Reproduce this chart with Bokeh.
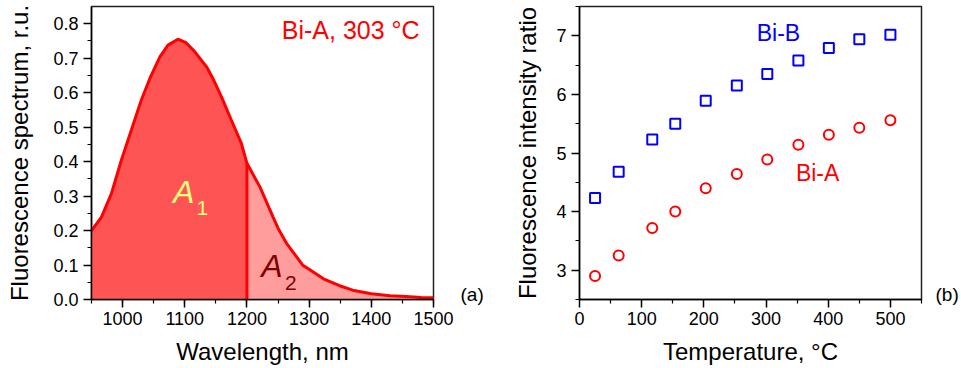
from bokeh.plotting import figure
from bokeh.models import Range1d, FixedTicker, Label, NumeralTickFormatter, LinearAxis
from bokeh.layouts import row
from bokeh.embed import file_html
from bokeh.resources import INLINE

# ---- data: panel (a) spectrum ----
wavelength = [950, 966, 982, 998, 1014, 1030, 1044, 1060, 1073, 1089, 1102, 1116,
              1135, 1145, 1159, 1175, 1191, 1200, 1221, 1242, 1250, 1264, 1290, 1300,
              1323, 1349, 1370, 1400, 1430, 1456, 1480, 1500]
intensity = [0.200, 0.239, 0.307, 0.404, 0.491, 0.578, 0.642, 0.704, 0.738, 0.755,
             0.745, 0.719, 0.675, 0.642, 0.588, 0.520, 0.453, 0.395, 0.326, 0.239,
             0.207, 0.162, 0.099, 0.088, 0.060, 0.040, 0.027, 0.0165, 0.011, 0.0087,
             0.006, 0.005]
split_wl = 1200

# ---- data: panel (b) ratio vs temperature ----
temp_b = [25, 63, 117, 154, 203, 253, 302, 352, 401, 450, 500]
ratio_b = [4.23, 4.68, 5.23, 5.50, 5.89, 6.15, 6.35, 6.58, 6.79, 6.94, 7.02]
temp_a = [25, 63, 117, 154, 203, 253, 302, 352, 401, 450, 500]
ratio_a = [2.90, 3.25, 3.72, 4.00, 4.40, 4.64, 4.89, 5.14, 5.31, 5.43, 5.56]

x1_ticks = [1000, 1100, 1200, 1300, 1400, 1500]
y1_ticks = [0.0, 0.1, 0.2, 0.3, 0.4, 0.5, 0.6, 0.7, 0.8]
x2_ticks = [0, 100, 200, 300, 400, 500]
y2_ticks = [3, 4, 5, 6, 7]

FONT = "Liberation Sans"


def style(p, xt, yt, xminor, yminor):
    p.xgrid.visible = False
    p.ygrid.visible = False
    p.outline_line_color = "#222222"
    p.outline_line_width = 1.5
    p.outline_line_alpha = 1.0
    for ax in (p.xaxis[0], p.yaxis[0]):
        ax.axis_line_color = "black"
        ax.axis_line_width = 1.5
        ax.major_tick_line_color = "black"
        ax.major_tick_line_width = 1.5
        ax.minor_tick_line_color = "black"
        ax.minor_tick_line_width = 1.2
        ax.major_tick_in = 0
        ax.major_tick_out = 8
        ax.minor_tick_in = 0
        ax.minor_tick_out = 4
        ax.major_label_text_font = FONT
        ax.major_label_text_font_size = "18px"
        ax.major_label_text_color = "black"
        ax.axis_label_text_font = FONT
        ax.axis_label_text_font_size = "24px"
        ax.axis_label_text_font_style = "normal"
        ax.axis_label_text_color = "black"
        ax.major_label_standoff = 5
    p.xaxis[0].major_label_standoff = 4
    p.xaxis[0].axis_label_standoff = 10
    p.xaxis[0].ticker = FixedTicker(ticks=xt, minor_ticks=xminor)
    p.yaxis[0].ticker = FixedTicker(ticks=yt, minor_ticks=yminor)


def panel_tag(p, pos, tag, standoff):
    ax = LinearAxis(ticker=FixedTicker(ticks=[pos]), major_label_overrides={pos: tag},
                    axis_line_color=None, major_tick_line_color=None,
                    minor_tick_line_color=None, major_tick_in=0, major_tick_out=0,
                    minor_tick_in=0, minor_tick_out=0, major_label_standoff=standoff,
                    major_label_text_font=FONT, major_label_text_font_size="19px",
                    major_label_text_color="black")
    p.add_layout(ax, "right")


def label(p, x, y, text, color, size, style="normal"):
    p.add_layout(Label(x=x, y=y, text=text, text_color=color, text_font=FONT,
                       text_font_size=size, text_font_style=style,
                       text_baseline="middle"))


# ---------------- panel (a) ----------------
p1 = figure(width=486, height=368, x_range=Range1d(950, 1500), y_range=Range1d(0, 0.85),
            output_backend="svg", toolbar_location=None,
            min_border_left=91, min_border_right=52, min_border_top=6, min_border_bottom=69,
            x_axis_label="Wavelength, nm", y_axis_label="Fluorescence spectrum, r.u.")
style(p1, x1_ticks, y1_ticks,
      [950 + 50 * i for i in range(12)], [0.05 + 0.1 * i for i in range(9)])
p1.yaxis[0].formatter = NumeralTickFormatter(format="0.0")
p1.yaxis[0].axis_label_standoff = 17
panel_tag(p1, 0.015, "(a)", 27)

left_x = [w for w in wavelength if w <= split_wl]
left_y = [v for w, v in zip(wavelength, intensity) if w <= split_wl]
right_x = [w for w in wavelength if w >= split_wl]
right_y = [v for w, v in zip(wavelength, intensity) if w >= split_wl]

p1.varea(x=left_x, y1=[0] * len(left_x), y2=left_y, fill_color="#FF5454")
p1.varea(x=right_x, y1=[0] * len(right_x), y2=right_y, fill_color="#FF9C9C")
p1.line(wavelength, intensity, line_color="#FF0000", line_width=3)
p1.segment(x0=[split_wl], y0=[0], x1=[split_wl], y1=[left_y[-1]], line_color="#FF0000", line_width=3)

label(p1, 1256, 0.782, "Bi-A, 303 °C", "#FF0000", "25px")
label(p1, 1081, 0.311, "A", "#FFFF80", "32px", "italic")
label(p1, 1119, 0.266, "1", "#FFFF80", "21px")
label(p1, 1223, 0.098, "A", "#800000", "32px", "italic")
label(p1, 1261, 0.047, "2", "#800000", "21px")

# ---------------- panel (b) ----------------
p2 = figure(width=475, height=368, x_range=Range1d(0, 550), y_range=Range1d(2.5, 7.5),
            output_backend="svg", toolbar_location=None,
            min_border_left=93, min_border_right=38, min_border_top=6, min_border_bottom=69,
            x_axis_label="Temperature, °C", y_axis_label="Fluorescence intensity ratio")
style(p2, x2_ticks, y2_ticks, [50 + 100 * i for i in range(6)], [2.5 + 0.5 * i for i in range(11)])
p2.yaxis[0].axis_label_standoff = 12
panel_tag(p2, 2.59, "(b)", 14)

p2.scatter(temp_b, ratio_b, marker="square", size=10, fill_color=None,
           line_color="#0000FF", line_width=2)
p2.scatter(temp_a, ratio_a, marker="circle", size=10, fill_color=None,
           line_color="#FF0000", line_width=2)
label(p2, 285, 7.055, "Bi-B", "#0000FF", "23px")
label(p2, 348, 4.653, "Bi-A", "#FF0000", "23px")

layout = row(p1, p2)
open("out.html", "w").write(file_html(layout, INLINE))
